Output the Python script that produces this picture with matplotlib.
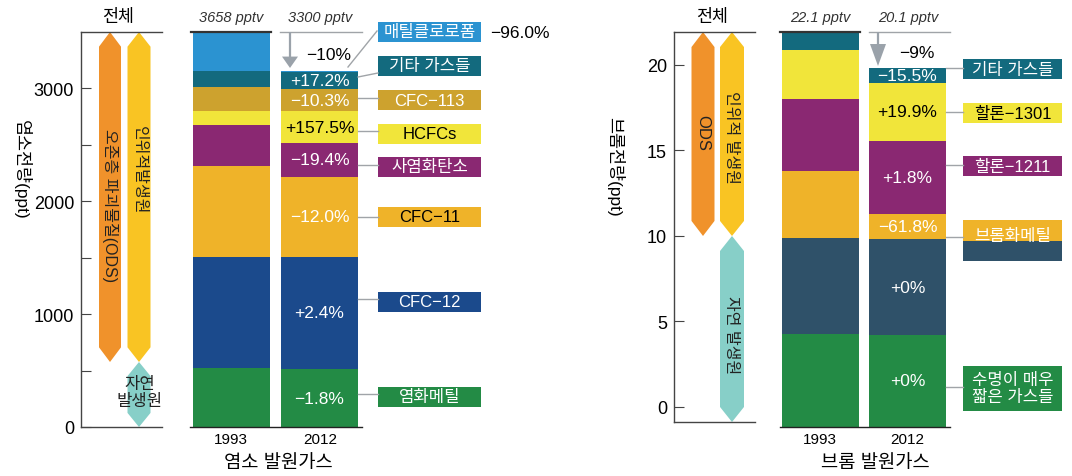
import matplotlib.pyplot as plt
import numpy as np
from matplotlib.patches import Polygon, Rectangle

plt.rcParams['font.family'] = ['Liberation Sans', 'Noto Sans CJK KR', 'DejaVu Sans']

W, H = 1072, 477

# chlorine source gases (bottom to top), ppt
cl_gases = ['염화메틸', 'CFC−12', 'CFC−11', '사염화탄소', 'HCFCs', 'CFC−113', '기타 가스들', '매틸클로로폼']
cl_1993 = [546, 1028, 843, 380, 130, 222, 148, 361]
cl_2012 = [536, 1040, 742, 310, 300, 199, 160, 13]
cl_change = ['−1.8%', '+2.4%', '−12.0%', '−19.4%', '+157.5%', '−10.3%', '+17.2%', '−96.0%']
cl_total_change = '−10%'

# bromine source gases (bottom to top), ppt
br_gases = ['수명이 매우\n짧은 가스들', '브롬화메틸(자연)', '브롬화메틸', '할론−1211', '할론−1301', '기타 가스들']
br_1993 = [5.2, 5.4, 3.75, 4.0, 2.75, 1.0]
br_2012 = [5.15, 5.35, 1.43, 4.07, 3.25, 0.85]
br_change = ['+0%', '+0%', '−61.8%', '+1.8%', '+19.9%', '−15.5%']
br_total_change = '−9%'

years = ['1993', '2012']

cl_colors = ['#238b45', '#1b4a8c', '#efb329', '#8a2872', '#f1e53a', '#cda22e', '#136a7e', '#2b93d1']
cl_text = ['white', 'white', 'white', 'white', 'black', 'white', 'white', 'white']
cl_box_text = ['white', 'white', 'black', 'white', 'black', 'white', 'white', 'white']
br_colors = ['#238b45', '#2f5169', '#efb329', '#8a2872', '#f1e53a', '#136a7e']
br_text = ['white', 'white', 'white', 'white', 'black', 'white']
br_box_text = ['white', 'white', 'white', 'white', 'black', 'white']

ARROW_GRAY = '#9aa2aa'
LINE_GRAY = '#a0a4a8'

fig = plt.figure(figsize=(W / 100, H / 100), dpi=100)


def px_axes(x0, y0, x1, y1):
    return fig.add_axes([x0 / W, 1 - y1 / H, (x1 - x0) / W, (y1 - y0) / H])


def pointed(ax, xc, hw, y_bot, y_top, tip, color):
    pts = [(xc, y_top), (xc + hw, y_top - tip), (xc + hw, y_bot + tip),
           (xc, y_bot), (xc - hw, y_bot + tip), (xc - hw, y_top - tip)]
    ax.add_patch(Polygon(pts, closed=True, facecolor=color, lw=0, clip_on=False))


def total_axis(ax, ylim, major, minor=None):
    ax.set_ylim(*ylim)
    ax.spines['right'].set_visible(False)
    for s in ('left', 'top', 'bottom'):
        ax.spines[s].set_color('#444444')
        ax.spines[s].set_linewidth(1)
    ax.set_xticks([])
    ax.set_yticks(major)
    if minor is not None:
        ax.set_yticks(minor, minor=True)
    ax.tick_params(axis='y', which='both', direction='in', length=7.5, width=0.8,
                   color='#444444', labelsize=13, pad=5)
    ax.patch.set_alpha(0)


def stacked(ax, x, values, colors, width=77):
    bottoms = np.concatenate([[0], np.cumsum(values)[:-1]])
    ax.bar(x, values, width, bottom=bottoms, color=colors, linewidth=0)
    return bottoms


# ---- chlorine: "전체" column
tl = px_axes(81, 33, 162, 428)
tl.set_xlim(81, 162)
total_axis(tl, (0, 3500), [0, 1000, 2000, 3000], [500, 1500, 2500])
pointed(tl, 110, 11, 576, 3500, 130, '#f0922b')
pointed(tl, 139, 11.5, 576, 3500, 130, '#f9c423')
pointed(tl, 139, 11.5, 0, 576, 125, '#87cfc8')

# ---- chlorine: bars
bl = px_axes(180, 33, 560, 428)
bl.set_xlim(180, 560)
bl.set_ylim(0, sum(cl_1993))
bl.axis('off')
x93, x12 = 231, 319.5
stacked(bl, x93, cl_1993, cl_colors)
b12 = stacked(bl, x12, cl_2012, cl_colors)
for i, (b, v) in enumerate(zip(b12, cl_2012)):
    if i == len(cl_2012) - 1:
        continue
    bl.text(x12, b + v / 2, cl_change[i], ha='center', va='center',
            fontsize=12.5, color=cl_text[i])
t93, t12 = sum(cl_1993), sum(cl_2012)
bl.plot([190, 362], [0, 0], color='#222222', lw=1, clip_on=False)
bl.plot([191, 271], [t93, t93], color='#333333', lw=1.6, clip_on=False)
bl.plot([280, 362], [t93, t93], color=LINE_GRAY, lw=1, clip_on=False)
head = 13 * t93 / 395
bl.plot([290, 290], [t93, t12 + head], color=ARROW_GRAY, lw=1.6)
bl.add_patch(Polygon([(282, t12 + head + 10), (298, t12 + head + 10), (290, t12 + 25)],
                     facecolor=ARROW_GRAY, lw=0))

# ---- bromine: "전체" column
tr = px_axes(674, 33, 755, 423)
tr.set_xlim(674, 755)
total_axis(tr, (-0.88, 21.93), [0, 5, 10, 15, 20])
pointed(tr, 703, 11.5, 10, 21.93, 0.88, '#f0922b')
pointed(tr, 732, 12, 10, 21.93, 0.88, '#f9c423')
pointed(tr, 732, 12, -0.88, 10, 0.88, '#87cfc8')

# ---- bromine: bars
br = px_axes(770, 33, 1072, 428)
br.set_xlim(770, 1072)
br.set_ylim(0, sum(br_1993))
br.axis('off')
y93, y12 = 820, 907.5
stacked(br, y93, br_1993, br_colors)
c12 = stacked(br, y12, br_2012, br_colors)
for i, (b, v) in enumerate(zip(c12, br_2012)):
    br.text(y12, b + v / 2, br_change[i], ha='center', va='center',
            fontsize=12.5, color=br_text[i])
s93, s12 = sum(br_1993), sum(br_2012)
br.plot([780, 950], [0, 0], color='#222222', lw=1, clip_on=False)
br.plot([780, 860], [s93, s93], color='#333333', lw=1.6, clip_on=False)
br.plot([869, 950], [s93, s93], color=LINE_GRAY, lw=1, clip_on=False)
bh = 13 * s93 / 395
br.plot([878, 878], [s93, s12 + bh], color=ARROW_GRAY, lw=1.6)
br.add_patch(Polygon([(870, s12 + bh + 0.6), (886, s12 + bh + 0.6), (878, s12 + 0.1)],
                     facecolor=ARROW_GRAY, lw=0))

# ---- overlay in pixel coordinates for labels and connectors
ov = fig.add_axes([0, 0, 1, 1])
ov.set_xlim(0, W)
ov.set_ylim(H, 0)
ov.axis('off')
ov.patch.set_alpha(0)

# axis titles
ov.text(118, 17, '전체', ha='center', va='center', fontsize=12.5)
ov.text(712, 17, '전체', ha='center', va='center', fontsize=12.5)
ov.text(22, 170, '염소전량(ppt)', ha='center', va='center', rotation=270, fontsize=12.5)
ov.text(615, 167, '브롬전량(ppt)', ha='center', va='center', rotation=270, fontsize=12.5)

# labels inside the total columns
ov.text(110, 206, '오존층 파괴물질(ODS)', ha='center', va='center', rotation=270, fontsize=11.5, color='#222222')
ov.text(139, 170, '인위적발생원', ha='center', va='center', rotation=270, fontsize=11.5, color='#222222')
ov.text(140, 393, '자연\n발생원', ha='center', va='center', fontsize=12, linespacing=1.15, color='#222222')
ov.text(703, 133, 'ODS', ha='center', va='center', rotation=270, fontsize=12, color='#222222')
ov.text(732, 138, '인위적 발생원', ha='center', va='center', rotation=270, fontsize=11.5, color='#222222')
ov.text(732, 335, '자연 발생원', ha='center', va='center', rotation=270, fontsize=11.5, color='#222222')

# totals and years
ov.text(231, 18, f'{sum(cl_1993):.0f} pptv', ha='center', va='center', fontsize=10.5, style='italic', color='#333333')
ov.text(320, 18, f'{sum(cl_2012):.0f} pptv', ha='center', va='center', fontsize=10.5, style='italic', color='#333333')
ov.text(820, 18, f'{sum(br_1993):.1f} pptv', ha='center', va='center', fontsize=10.5, style='italic', color='#333333')
ov.text(908, 18, f'{sum(br_2012):.1f} pptv', ha='center', va='center', fontsize=10.5, style='italic', color='#333333')
ov.text(351, 55, cl_total_change, ha='right', va='center', fontsize=12.5)
ov.text(935, 53, br_total_change, ha='right', va='center', fontsize=12.5)
for xc, yr in zip([231, 320, 820, 907], years * 2):
    ov.text(xc, 440, yr, ha='center', va='center', fontsize=11)
ov.text(278, 464, '염소 발원가스', ha='center', va='center', fontsize=13.5)
ov.text(875, 464, '브롬 발원가스', ha='center', va='center', fontsize=13.5)


def label_box(x0, w, yc, h, text, face, tcolor):
    ov.add_patch(Rectangle((x0, yc - h / 2), w, h, facecolor=face, lw=0))
    ov.text(x0 + w / 2, yc, text, ha='center', va='center', fontsize=12, color=tcolor,
            linespacing=1.15)


# chlorine legend boxes
cl_box_y = [398, 303, 218, 168, 135, 101, 67, 33]
cl_link_y = [395, 300, 218, 166, 132, 99, None, None]
for i, name in enumerate(cl_gases):
    label_box(378, 103, cl_box_y[i], 20, name, cl_colors[i], cl_box_text[i])
    if cl_link_y[i] is not None:
        ov.plot([358, 378], [cl_link_y[i]] * 2, color=LINE_GRAY, lw=1)
ov.plot([358, 378], [78, 74], color=LINE_GRAY, lw=1)
ov.plot([348, 377], [68, 32], color=LINE_GRAY, lw=1)
ov.text(490, 33, cl_change[-1], ha='left', va='center', fontsize=12.5)

# bromine legend boxes
ov.add_patch(Rectangle((963, 242), 99, 20, facecolor=br_colors[1], lw=0))
br_box_y = [389, None, 231.5, 167, 114, 70]
br_box_h = [45, None, 21, 20, 20, 20]
br_link_y = [388, None, 238, 166, 113, 69]
for i, name in enumerate(br_gases):
    if br_box_y[i] is None:
        continue
    ov.add_patch(Rectangle((963, br_box_y[i] - br_box_h[i] / 2), 99, br_box_h[i],
                           facecolor=br_colors[i], lw=0))
    ty = 237 if i == 2 else br_box_y[i]
    ov.text(1012.5, ty, name, ha='center', va='center', fontsize=12,
            color=br_box_text[i], linespacing=1.2)
    ov.plot([946, 963], [br_link_y[i]] * 2, color=LINE_GRAY, lw=1)

fig.savefig('out.png', dpi=100)
